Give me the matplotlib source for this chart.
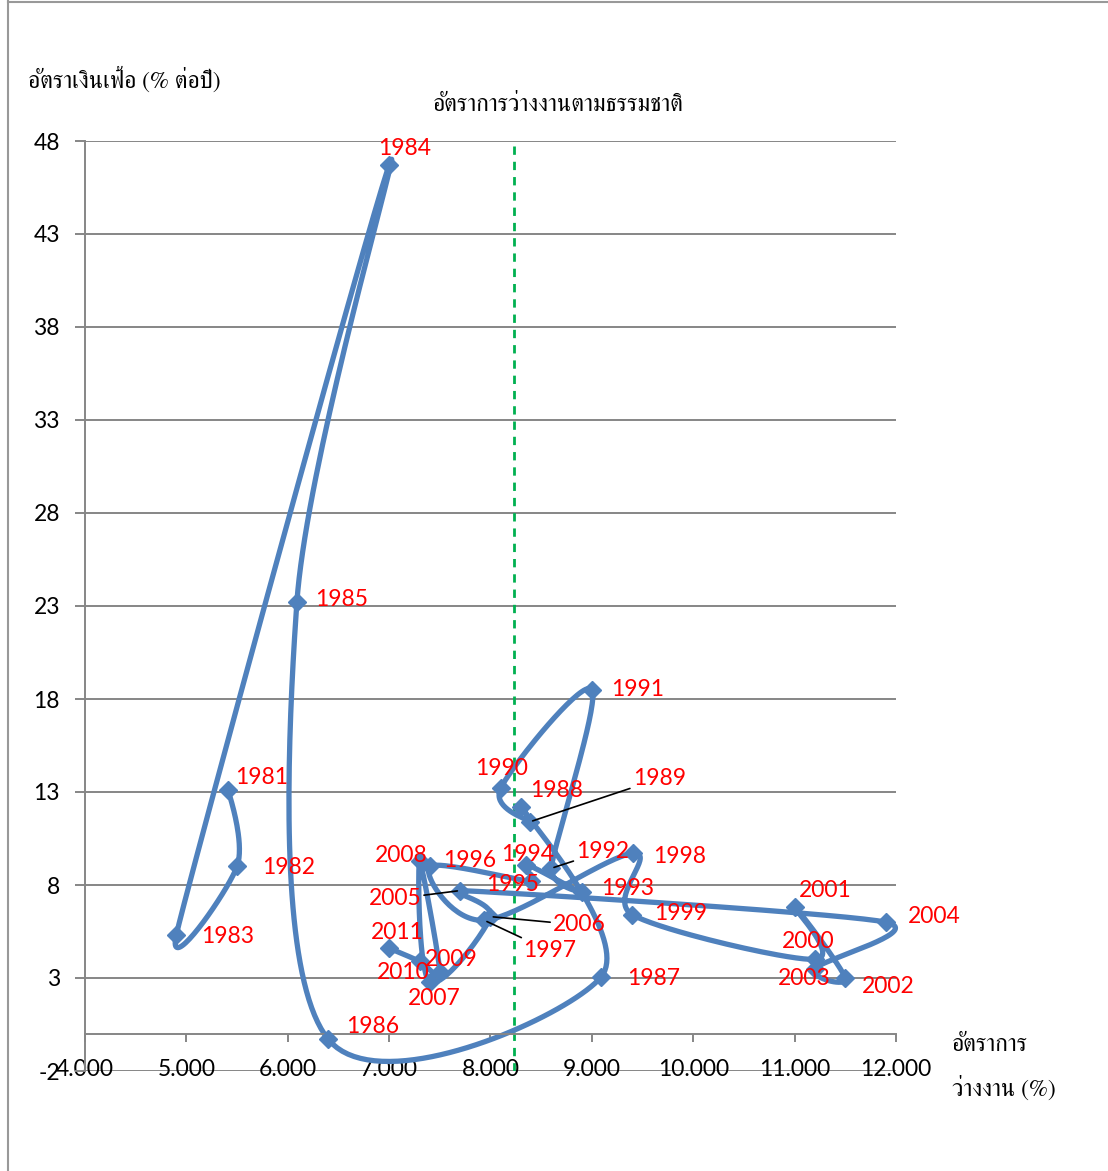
import numpy as np
import matplotlib
matplotlib.use('Agg')
import matplotlib.pyplot as plt
from matplotlib import font_manager
from matplotlib.ft2font import FT2Font
from matplotlib.lines import Line2D

# unemployment (%) vs inflation (% per year), 1981-2011
years = list(range(1981, 2012))
unemp = [5.41, 5.50, 4.90, 7.00, 6.09, 6.40, 9.09, 8.30, 8.39, 8.10,
         9.00, 8.60, 8.90, 8.35, 8.40, 7.40, 7.94, 9.41, 9.40, 11.20,
         11.00, 11.50, 11.20, 11.90, 7.70, 8.00, 7.40, 7.30, 7.50, 7.30, 7.00]
infl = [13.1, 9.0, 5.3, 46.7, 23.2, -0.3, 3.05, 12.2, 11.4, 13.2,
        18.5, 8.9, 7.6, 9.1, 8.2, 9.0, 6.1, 9.7, 6.4, 4.0,
        6.8, 3.0, 3.5, 6.0, 7.7, 6.3, 2.8, 9.3, 3.3, 3.9, 4.6]
natural_rate = 8.23

x_ticks = [4, 5, 6, 7, 8, 9, 10, 11, 12]
y_ticks = [-2, 3, 8, 13, 18, 23, 28, 33, 38, 43, 48]

# label offsets (points) from each marker
lab_off = {1981: (24, 9), 1982: (37, -1), 1983: (37, -1), 1984: (11, 12),
           1985: (32, 2), 1986: (32, 9), 1987: (38, -1), 1988: (26, 12),
           1989: (93, 31), 1990: (1, 14), 1991: (33, 0), 1992: (37, 12),
           1993: (33, 3), 1994: (1, 7), 1995: (-13, -2), 1996: (29, 4),
           1997: (47, -22), 1998: (33, -2), 1999: (35, 1), 2000: (-5, 13),
           2001: (22, 12), 2002: (31, -6), 2003: (-8, -7), 2004: (35, 4),
           2005: (-47, -6), 2006: (64, -6), 2007: (3, -12), 2008: (-13, 4),
           2009: (8, 9), 2010: (-12, -8), 2011: (6, 11)}
leaders = [1989, 1992, 1997, 2005, 2006]


def thai_family():
    names = []
    for f in font_manager.fontManager.ttflist:
        try:
            if ord('ต') in FT2Font(f.fname).get_charmap():
                names.append(f.name)
        except Exception:
            pass
    for n in names:
        if 'Serif' in n or 'Looped' in n:
            return n
    return names[0] if names else 'DejaVu Sans'


def smooth(p, n=40):
    # bezier through the points; tangent = (next - prev)/6, capped at half of either chord
    p = np.asarray(p, float)
    m = len(p)
    d = np.hypot(*np.diff(p, axis=0).T)
    tans = np.zeros_like(p)
    for i in range(1, m - 1):
        tan = (p[i + 1] - p[i - 1]) / 6
        ln = np.hypot(*tan)
        if ln > 0:
            tan = tan * min(1.0, 0.5 * d[i - 1] / ln, 0.5 * d[i] / ln)
        tans[i] = tan
    out = []
    t = np.linspace(0, 1, n)[:, None]
    for i in range(m - 1):
        a, b = p[i], p[i + 1]
        c1 = a + tans[i]
        c2 = b - tans[i + 1]
        seg = ((1 - t) ** 3) * a + 3 * ((1 - t) ** 2) * t * c1 + 3 * (1 - t) * t ** 2 * c2 + t ** 3 * b
        out.append(seg)
    return np.vstack(out)


thai = thai_family()
plt.rcParams['font.family'] = ['Lato', 'DejaVu Sans']

fig = plt.figure(figsize=(11.08, 11.71), dpi=100)
ax = fig.add_axes([85/1108, 1 - 1071/1171, (896-85)/1108, (1071-141)/1171])

blue = '#4F81BD'
grid_c = '#868686'

ax.set_xlim(4, 12)
ax.set_ylim(-2, 48)

for yt in y_ticks:
    ax.axhline(yt, color=grid_c, lw=1.4, zorder=0)

ax.plot([natural_rate, natural_rate], [-2, 48], color='#00B050', lw=2, ls=(0, (3, 2.5)), zorder=1)

# smoothing is done in screen space, then mapped back to data
pts = ax.transData.transform(np.column_stack([unemp, infl]))
curve = ax.transData.inverted().transform(smooth(pts))
ax.plot(curve[:, 0], curve[:, 1], color=blue, lw=3.8, solid_capstyle='round', zorder=2, clip_on=False)
ax.plot(unemp, infl, ls='none', marker='D', ms=9, color=blue, zorder=3)

for yr, xv, yv in zip(years, unemp, infl):
    props = dict(arrowstyle='-', color='black', lw=1.2, shrinkA=0, shrinkB=2) if yr in leaders else None
    ax.annotate(str(yr), (xv, yv), xytext=lab_off[yr], textcoords='offset points',
                ha='center', va='center', color='red', fontsize=16.5, arrowprops=props, zorder=4)

ax.set_xticks(x_ticks)
ax.set_xticklabels(['%.3f' % v for v in x_ticks])
ax.set_yticks(y_ticks)
ax.set_yticklabels([str(v) for v in y_ticks])

for s in ['top', 'right']:
    ax.spines[s].set_visible(False)
ax.spines['bottom'].set_position(('data', 0))
ax.spines['bottom'].set_color(grid_c)
ax.spines['left'].set_color(grid_c)
ax.spines['bottom'].set_linewidth(1.4)
ax.spines['left'].set_linewidth(1.4)
ax.tick_params(axis='x', direction='out', length=6, width=1.4, color=grid_c, labelsize=16.5, pad=12)
ax.tick_params(axis='y', direction='out', length=7, width=1.4, color=grid_c, labelsize=16.5, pad=11)

fig.text(28/1108, 1 - 80/1171, 'อัตราเงินเฟ้อ (% ต่อปี)', ha='left', va='center',
         fontsize=17, family=[thai, 'DejaVu Sans'])
fig.text(558/1108, 1 - 105/1171, 'อัตราการว่างงานตามธรรมชาติ', ha='center', va='center',
         fontsize=17, family=[thai, 'DejaVu Sans'])
fig.text(952/1108, 1 - 1045/1171, 'อัตราการ', ha='left', va='center',
         fontsize=17, family=[thai, 'DejaVu Sans'])
fig.text(952/1108, 1 - 1088/1171, 'ว่างงาน (%)', ha='left', va='center',
         fontsize=17, family=[thai, 'DejaVu Sans'])

# outer frame on the left and top
fig.add_artist(Line2D([8/1108, 8/1108], [0, 1], color='#999999', lw=1.5))
fig.add_artist(Line2D([8/1108, 1], [1 - 2/1171, 1 - 2/1171], color='#999999', lw=1.5))

fig.savefig('out.png', dpi=100)
